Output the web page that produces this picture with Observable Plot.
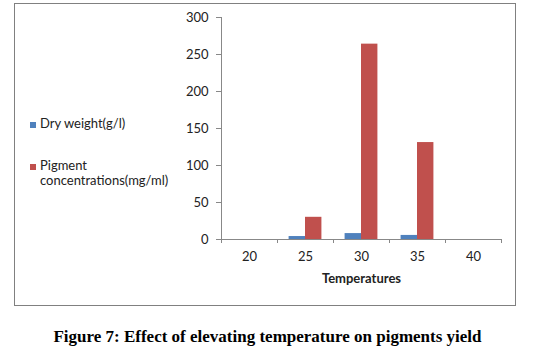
<!DOCTYPE html>
<html>
<head>
<meta charset="utf-8">
<script src="https://cdn.jsdelivr.net/npm/d3@7"></script>
<script src="https://cdn.jsdelivr.net/npm/@observablehq/plot@0.6"></script>
<style>
  html, body { margin: 0; padding: 0; background: #fff; }
  #page { position: relative; width: 535px; height: 357px; }
  #box { position: absolute; left: 14px; top: 3px; width: 500px; height: 301px; border: 1px solid #808080; }
  #chart { position: absolute; left: 0; top: 0; }
  .leg { position: absolute; font-family: Lato, sans-serif; font-size: 13px; color: #222; line-height: 15px; }
  .sw { position: absolute; width: 6px; height: 6px; }
  #caption { position: absolute; left: 0; width: 535px; top: 327px; text-align: center;
    font-family: "Liberation Serif", "Times New Roman", serif; font-weight: bold; font-size: 17px; color: #000; }
</style>
</head>
<body>
<div id="page">
  <div id="box">
    <div id="chart"></div>
    <div id="legend"></div>
  </div>
  <div id="caption">Figure 7: Effect of elevating temperature on pigments yield</div>
</div>
<script>
const temperatures = [20, 25, 30, 35, 40];
const dryWeight = [0, 4, 8, 5.5, 0];
const pigment = [0, 30, 264, 131, 0];
const seriesNames = ["Dry weight(g/l)", "Pigment concentrations(mg/ml)"];
const seriesColors = ["#4F81BD", "#C0504D"];
const yTicks = [0, 50, 100, 150, 200, 250, 300];
const xLabel = "Temperatures";

const step = 5;
const outer = 0.207;
const barW = 0.293;

const rows = temperatures.flatMap((t, i) => [
  {temp: t, series: seriesNames[0], k: 0, value: dryWeight[i]},
  {temp: t, series: seriesNames[1], k: 1, value: pigment[i]}
]);
const boundaries = [...temperatures.map(t => t - step / 2), temperatures[temperatures.length - 1] + step / 2];

const chart = Plot.plot({
  width: 500,
  height: 301,
  marginLeft: 206,
  marginRight: 14,
  marginTop: 13,
  marginBottom: 66,
  style: {fontFamily: "Lato, sans-serif", fontSize: "13px", color: "#222", background: "transparent"},
  x: {domain: [boundaries[0], boundaries[boundaries.length - 1]]},
  y: {domain: [0, 300]},
  color: {domain: seriesNames, range: seriesColors},
  marks: [
    Plot.rectY(rows, {
      x1: d => d.temp - step / 2 + step * (outer + d.k * barW),
      x2: d => d.temp - step / 2 + step * (outer + (d.k + 1) * barW),
      y1: 0,
      y2: "value",
      fill: "series"
    }),
    Plot.ruleX([boundaries[0]], {stroke: "#888"}),
    Plot.ruleY([0], {stroke: "#888"}),
    Plot.axisY({ticks: yTicks, tickSize: 5, tickPadding: 8, stroke: "#888", label: null, tickFormat: d => d, fontSize: 13}),
    Plot.axisX({ticks: boundaries, tickSize: 4, stroke: "#888", tickFormat: () => "", label: null}),
    Plot.axisX({ticks: temperatures, tickSize: 0, tickPadding: 12, label: null, tickFormat: d => d, fontSize: 13}),
    Plot.text([xLabel], {frameAnchor: "bottom", dy: 39, fontWeight: "bold", fontSize: 13, fill: "#222", lineAnchor: "middle"})
  ]
});
document.getElementById("chart").appendChild(chart);

// legend (positions relative to the bordered box content origin at page (15,4))
const legend = document.getElementById("legend");
const legendItems = [
  {lines: [seriesNames[0]], top: 116},
  {lines: ["Pigment", "concentrations(mg/ml)"], top: 158}
];
legendItems.forEach((item, i) => {
  const sw = document.createElement("div");
  sw.className = "sw";
  sw.style.background = seriesColors[i];
  sw.style.left = (30 - 15) + "px";
  sw.style.top = (item.top - 4 + 6) + "px";
  legend.appendChild(sw);
  const tx = document.createElement("div");
  tx.className = "leg";
  tx.style.left = (40 - 15) + "px";
  tx.style.top = (item.top - 4) + "px";
  tx.innerHTML = item.lines.join("<br>");
  legend.appendChild(tx);
});
</script>
</body>
</html>
